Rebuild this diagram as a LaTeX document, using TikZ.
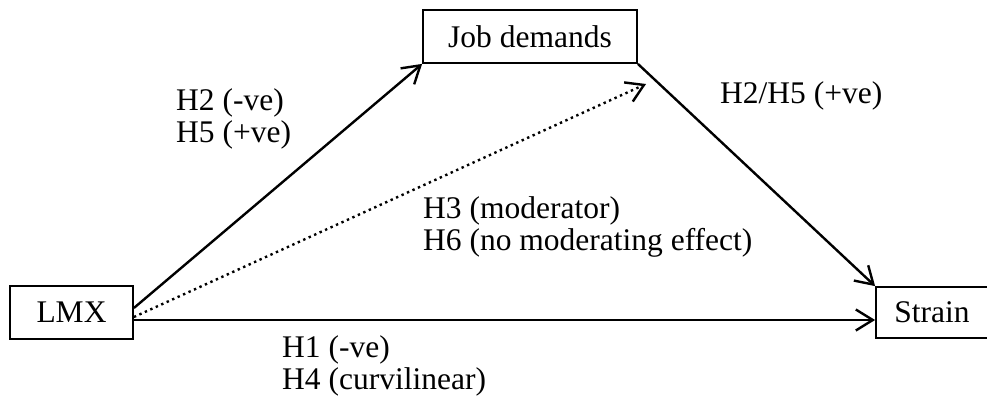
\documentclass[tikz,border=0pt]{standalone}
\usepackage{fontspec}
\setmainfont{Liberation Serif}
\usetikzlibrary{arrows.meta}

\begin{document}
\begin{tikzpicture}[x=1pt, y=-1pt,
    box/.style={draw, line width=1.8pt, minimum height=53pt, inner sep=0pt,
      font=\fontsize{31.5}{32}\selectfont},
    lab/.style={anchor=north west, inner sep=0pt, align=left,
      font=\fontsize{31.5}{32}\selectfont},
    arr/.style={line width=2.4pt, -{Straight Barb[length=17pt, width=21pt]}}]
    \useasboundingbox (0,0) rectangle (987,407);

    % Variables
    \node[box, minimum width=123pt] (lmx) at (71.5,312.5) {LMX};
    \node[box, minimum width=214pt] (jobd) at (530,36.5) {Job demands};
    \node[box, minimum width=112pt, minimum height=51pt] (strain) at (932,312.5) {Strain};

    % End of the moderating path
    \coordinate (modtip) at (646,84);

    % Paths
    \draw[arr] ([yshift=4.5pt]lmx.east) -- (jobd.south west);
    \draw[arr, dash pattern=on 2.4pt off 3.6pt] ([yshift=-4.5pt]lmx.east) -- (modtip);
    \draw[arr] ([yshift=-7.5pt]lmx.east) -- ([yshift=-7.5pt]strain.west);
    \draw[arr] (jobd.south east) -- (strain.north west);

    % Labels
    \node[lab] (hjob) at (176,88) {H2 (-ve)\\H5 (+ve)};
    \node[lab] (hstrain) at (720,81) {H2/H5 (+ve)};
    \node[lab] (hmod) at (423,196) {H3 (moderator)\\H6 (no moderating effect)};
    \node[lab] (hdirect) at (282,335) {H1 (-ve)\\H4 (curvilinear)};
\end{tikzpicture}
\end{document}
